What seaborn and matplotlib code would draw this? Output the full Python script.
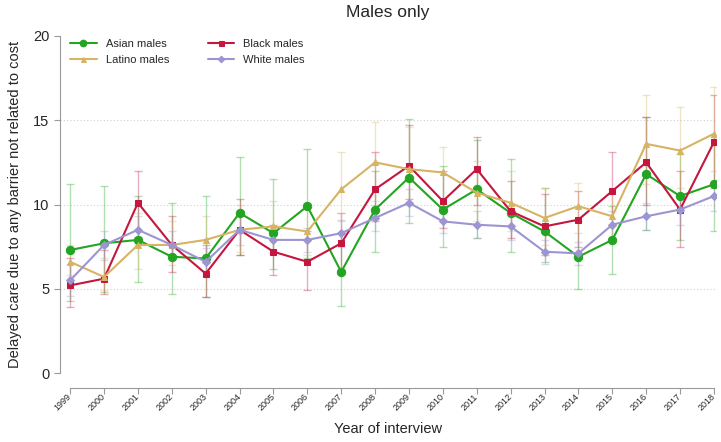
import numpy as np
import pandas as pd
import matplotlib
matplotlib.use("Agg")
import matplotlib.pyplot as plt
import seaborn as sns

years = list(range(1999, 2019))
groups = ["Asian males", "Black males", "Latino males", "White males"]

asian = [7.3, 7.7, 7.9, 6.9, 6.8, 9.5, 8.3, 9.9, 6.0, 9.7, 11.6, 9.7, 10.9, 9.5, 8.4, 6.9, 7.9, 11.8, 10.5, 11.2]
asian_lo = [4.3, 4.8, 5.4, 4.7, 4.5, 7.0, 6.2, 6.8, 4.0, 7.2, 8.9, 7.5, 8.0, 7.2, 6.6, 5.0, 5.9, 8.5, 7.9, 8.4]
asian_hi = [11.2, 11.1, 10.5, 10.1, 10.5, 12.8, 11.5, 13.3, 8.3, 12.0, 15.1, 12.3, 13.8, 12.7, 11.0, 9.0, 9.9, 15.2, 13.0, 14.0]

black = [5.2, 5.6, 10.1, 7.6, 5.9, 8.5, 7.2, 6.6, 7.7, 10.9, 12.3, 10.2, 12.1, 9.6, 8.7, 9.1, 10.8, 12.5, 9.7, 13.7]
black_lo = [3.9, 4.7, 8.1, 6.0, 4.5, 7.0, 5.8, 4.9, 6.1, 9.0, 10.3, 8.6, 10.0, 8.0, 7.0, 7.5, 8.8, 10.0, 7.5, 11.0]
black_hi = [6.8, 7.3, 12.0, 9.3, 7.6, 10.3, 8.8, 8.4, 9.5, 13.1, 14.7, 12.0, 14.0, 11.4, 10.6, 10.8, 13.1, 15.2, 12.0, 16.5]

latino = [6.6, 5.7, 7.6, 7.6, 7.9, 8.5, 8.7, 8.4, 10.9, 12.5, 12.1, 11.9, 10.7, 10.1, 9.2, 9.9, 9.3, 13.6, 13.2, 14.2]
latino_lo = [5.8, 4.9, 6.2, 6.4, 6.6, 7.2, 7.3, 7.0, 9.0, 10.2, 10.0, 9.9, 9.0, 8.4, 7.6, 8.3, 7.8, 11.2, 11.0, 12.0]
latino_hi = [7.6, 6.8, 9.5, 9.0, 9.3, 10.0, 10.2, 10.1, 13.1, 14.9, 14.6, 13.4, 12.6, 12.0, 11.0, 11.3, 10.9, 16.5, 15.8, 17.0]

white = [5.5, 7.6, 8.5, 7.6, 6.6, 8.5, 7.9, 7.9, 8.3, 9.2, 10.1, 9.0, 8.8, 8.7, 7.2, 7.1, 8.8, 9.3, 9.7, 10.5]
white_lo = [4.6, 6.7, 7.6, 6.8, 5.8, 7.6, 7.1, 7.2, 7.5, 8.4, 9.3, 8.3, 8.0, 7.9, 6.5, 6.4, 8.0, 8.5, 8.8, 9.6]
white_hi = [6.5, 8.4, 9.3, 8.4, 7.4, 9.4, 8.7, 8.6, 9.1, 10.0, 10.9, 9.7, 9.6, 9.5, 7.9, 7.8, 9.6, 10.1, 10.6, 11.4]

values = {"Asian males": asian, "Black males": black, "Latino males": latino, "White males": white}
lows = {"Asian males": asian_lo, "Black males": black_lo, "Latino males": latino_lo, "White males": white_lo}
highs = {"Asian males": asian_hi, "Black males": black_hi, "Latino males": latino_hi, "White males": white_hi}

colors = {"Asian males": "#23a523", "Black males": "#c4163e",
          "Latino males": "#d6b463", "White males": "#9c95d2"}
markers = {"Asian males": "o", "Black males": "s", "Latino males": "^", "White males": "D"}
msizes = {"Asian males": 6, "Black males": 4.5, "Latino males": 4.5, "White males": 4.2}

rows = []
for g in groups:
    for y, v in zip(years, values[g]):
        rows.append({"year": y, "pct": v, "group": g})
df = pd.DataFrame(rows)

sns.set_style("white")
plt.rcParams['font.family'] = ['Liberation Sans', 'DejaVu Sans']

fig = plt.figure(figsize=(7.21, 4.42), dpi=100)
ax = fig.add_axes([0.0832, 0.156, 0.9098, 0.7626])

# spine placement first, it resets the ticks
for s in ["top", "right"]:
    ax.spines[s].set_visible(False)
ax.spines["bottom"].set_position(("outward", 11))

for lvl in [5, 10, 15]:
    ax.axhline(lvl, color="#d0d0d0", lw=0.8, ls=(0, (1, 2)), zorder=0)

for g in groups:
    v = np.array(values[g])
    err = [v - np.array(lows[g]), np.array(highs[g]) - v]
    ax.errorbar(years, v, yerr=err, fmt="none", ecolor=colors[g], alpha=0.35,
                elinewidth=1, capsize=3, capthick=1, zorder=1)

for g in groups:
    sns.lineplot(data=df[df["group"] == g], x="year", y="pct", ax=ax,
                 color=colors[g], marker=markers[g], markersize=msizes[g],
                 markeredgecolor=colors[g], lw=1.5, label=g, zorder=3)

ax.set_xlim(1999 - 0.3, 2018 + 0.06)
ax.set_ylim(0, 20)
ax.set_xticks(years)
ax.set_xticklabels([str(y) for y in years], rotation=45, fontsize=6.5,
                   ha="right", va="center", rotation_mode="anchor")
ax.set_yticks([0, 5, 10, 15, 20])
ax.tick_params(axis="y", labelsize=10.5, length=4, color="#999999", direction="out", left=True)
ax.tick_params(axis="x", length=4, color="#999999", direction="out", bottom=True, pad=1)

ax.spines["left"].set_color("#999999")
ax.spines["bottom"].set_color("#999999")
ax.spines["bottom"].set_bounds(1999, 2018)
ax.spines["left"].set_bounds(0, 20)

ax.set_xlabel("Year of interview", fontsize=10.5)
ax.xaxis.set_label_coords(0.5, -0.145)
ax.set_ylabel("Delayed care due to any barrier not related to cost", fontsize=10.5)
ax.yaxis.set_label_coords(-0.058, 0.5)
ax.set_title("Males only", fontsize=12.5, pad=14)

handles, labels = ax.get_legend_handles_labels()
order = [0, 2, 1, 3]
ax.legend([handles[i] for i in order], [labels[i] for i in order], ncol=2,
          loc="upper left", bbox_to_anchor=(0.0, 1.02), frameon=False,
          fontsize=8, columnspacing=3.5, handlelength=2.4, labelspacing=0.5,
          markerscale=0.8)

fig.savefig("out.png", dpi=100)
